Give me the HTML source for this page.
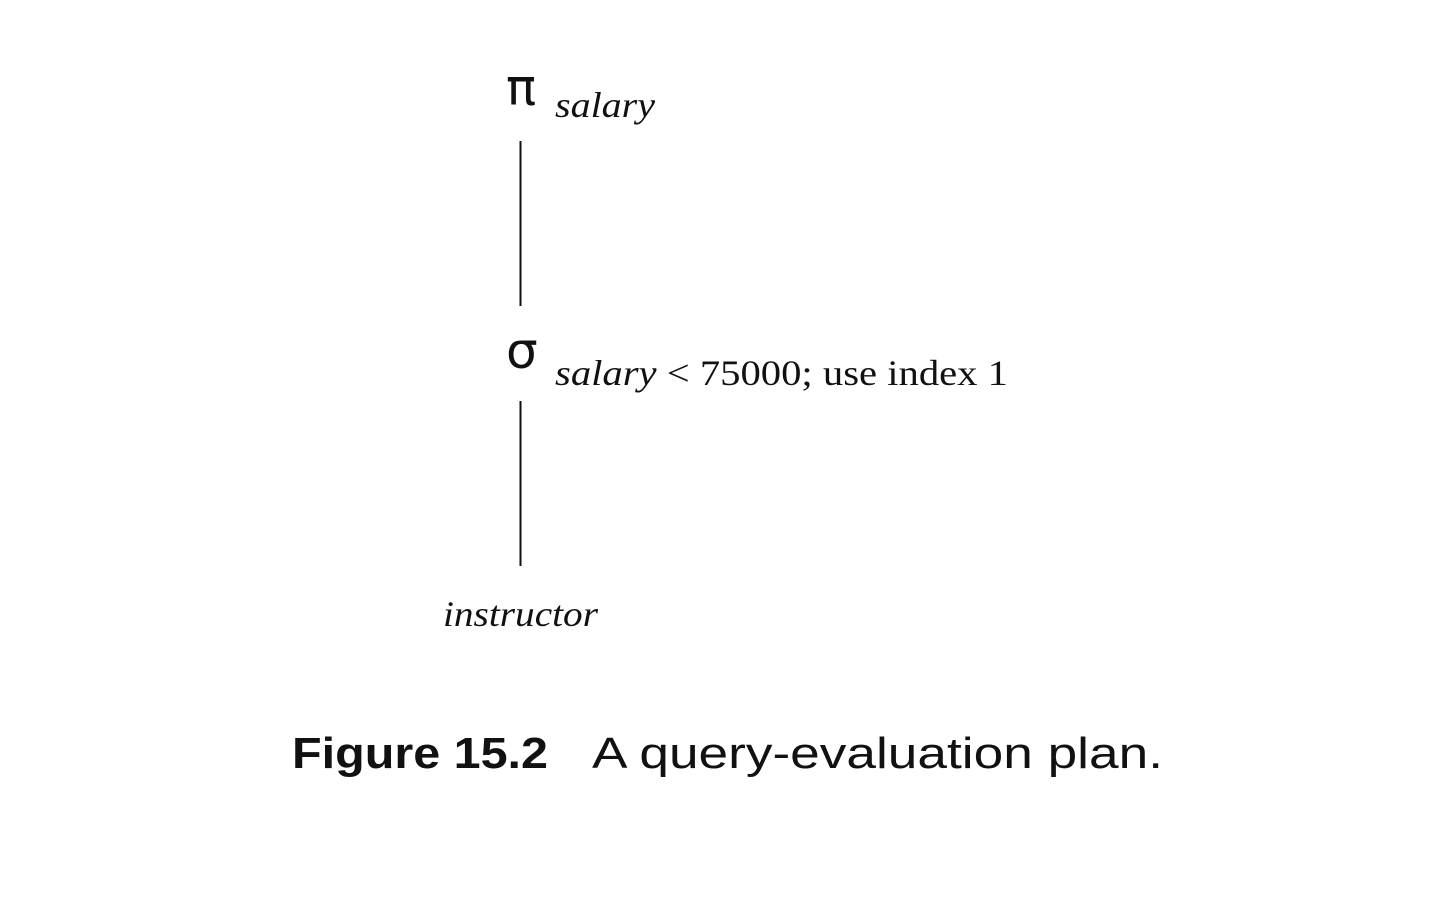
<!DOCTYPE html>
<html><head><meta charset="utf-8"><style>html,body{margin:0;padding:0;background:#fff}</style></head>
<body>
<svg width="1440" height="918" xmlns="http://www.w3.org/2000/svg" style="display:block">
<rect width="1440" height="918" fill="#fff"/>
<text x="506" y="105" font-family="DejaVu Sans, sans-serif" font-size="50" fill="#111">π</text>
<text x="555" y="117" font-family="Liberation Serif, serif" font-style="italic" font-size="36" fill="#111" textLength="100" lengthAdjust="spacingAndGlyphs">salary</text>
<line x1="520.5" y1="141" x2="520.5" y2="306" stroke="#111" stroke-width="2"/>
<text x="506" y="368" font-family="DejaVu Sans, sans-serif" font-size="50" fill="#111">σ</text>
<text x="555" y="385" font-family="Liberation Serif, serif" font-size="36" fill="#111" textLength="453" lengthAdjust="spacingAndGlyphs"><tspan font-style="italic">salary</tspan> &lt; 75000; use index 1</text>
<line x1="520.5" y1="401" x2="520.5" y2="566" stroke="#111" stroke-width="2"/>
<text x="443" y="626" font-family="Liberation Serif, serif" font-style="italic" font-size="36" fill="#111" textLength="155" lengthAdjust="spacingAndGlyphs">instructor</text>
<text x="292" y="768" font-family="Liberation Sans, sans-serif" font-weight="bold" font-size="44" fill="#111" textLength="256" lengthAdjust="spacingAndGlyphs">Figure 15.2</text>
<text x="592" y="768" font-family="Liberation Sans, sans-serif" font-size="44" fill="#111" textLength="571" lengthAdjust="spacingAndGlyphs">A query-evaluation plan.</text>
</svg>
</body></html>
